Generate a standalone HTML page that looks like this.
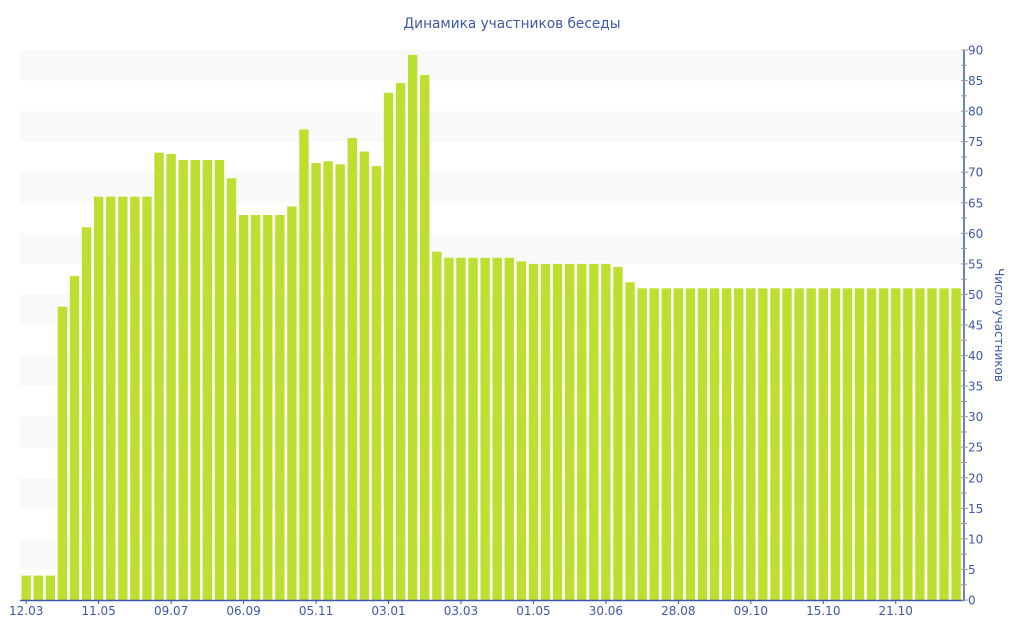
<!DOCTYPE html>
<html><head><meta charset="utf-8"><style>html,body{margin:0;padding:0;background:#fff;}svg{display:block}</style></head>
<body>
<svg id="c" width="1024" height="640" xmlns="http://www.w3.org/2000/svg" font-family="'DejaVu Sans','Liberation Sans',sans-serif">
<rect width="1024" height="640" fill="#fff"/>
<g id="bands"></g>
<g id="bars"></g>
<g id="axis"></g>
<text x="512" y="28" text-anchor="middle" font-size="14" fill="#3e58a8" textLength="217" lengthAdjust="spacingAndGlyphs">Динамика участников беседы</text>
<text transform="translate(995,325) rotate(90)" text-anchor="middle" font-size="12" fill="#3e58a8">Число участников</text>
</svg>
<script>
var ns="http://www.w3.org/2000/svg";
function el(p,t,a){var e=document.createElementNS(ns,t);for(var k in a)e.setAttribute(k,a[k]);p.appendChild(e);return e;}
var L=20,R=964,B=600,T=50,sc=(B-T)/90;
function y(v){return B-v*sc;}
var bands=document.getElementById('bands');
for(var v=10;v<=90;v+=10){el(bands,'rect',{x:L,y:y(v),width:R-L,height:5*sc,fill:'#f9f9f9'});}
var vals=[4,4,4,48,53,61,66,66,66,66,66,73.2,73,72,72,72,72,69,63,63,63,63,64.4,77,71.5,71.8,71.3,75.6,73.4,71,83,84.6,89.2,85.9,57,56,56,56,56,56,56,55.4,55,55,55,55,55,55,55,54.5,52];
while(vals.length<78)vals.push(51);
var pitch=(962-20)/78,bw=9.4;
var bars=document.getElementById('bars');
vals.forEach(function(v,i){var x=L+1.5+i*pitch;el(bars,'rect',{x:x.toFixed(2),y:y(v).toFixed(2),width:bw,height:(v*sc).toFixed(2),fill:'#bde030'});});
var ax=document.getElementById('axis');
el(ax,'line',{x1:L,y1:B+0.5,x2:R,y2:B+0.5,stroke:'#3e58a8','stroke-width':1.5});
el(ax,'line',{x1:R,y1:T,x2:R,y2:B+1,stroke:'#3e58a8','stroke-width':1.5});
for(var v=0;v<=90;v+=2.5){var yy=y(v);var major=(v%5==0);el(ax,'line',{x1:R-3,y1:yy,x2:R+(major?4:3),y2:yy,stroke:'#999','stroke-width':1});
 if(major){var t=el(ax,'text',{x:R+4,y:yy+4.5,'font-size':12,fill:'#3e58a8'});t.textContent=v;}}
var labs=['12.03','11.05','09.07','06.09','05.11','03.01','03.03','01.05','30.06','28.08','09.10','15.10','21.10'];
labs.forEach(function(s,k){var cx=L+1.5+k*6*pitch+bw/2;el(ax,'line',{x1:cx,y1:B,x2:cx,y2:B+4,stroke:'#3e58a8'});var t=el(ax,'text',{x:cx,y:B+15,'font-size':12,'text-anchor':'middle',fill:'#3e58a8'});t.textContent=s;});
</script>
</body></html>
